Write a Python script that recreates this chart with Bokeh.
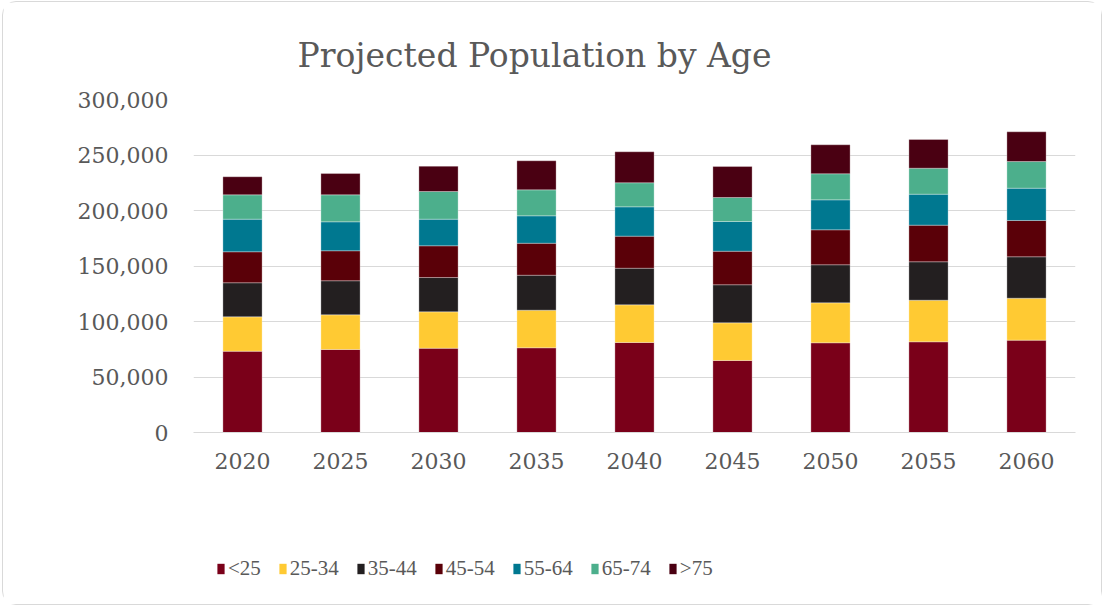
from bokeh.plotting import figure
from bokeh.layouts import column
from bokeh.models import ColumnDataSource, Legend, LegendItem, NumeralTickFormatter, FixedTicker
from bokeh.embed import file_html
from bokeh.resources import INLINE

years = ["2020", "2025", "2030", "2035", "2040", "2045", "2050", "2055", "2060"]
age_groups = ["<25", "25-34", "35-44", "45-54", "55-64", "65-74", ">75"]

under_25 = [73200, 74800, 75900, 76300, 81100, 64900, 80800, 81700, 83200]
age_25_34 = [31000, 31200, 32800, 33900, 33900, 33900, 36000, 37500, 37800]
age_35_44 = [30700, 30700, 30900, 31500, 33000, 34300, 34300, 34600, 37300]
age_45_54 = [27900, 27000, 28600, 28800, 28900, 30200, 31500, 33000, 32700]
age_55_64 = [29400, 26100, 24000, 24700, 26400, 26800, 27000, 27900, 29100]
age_65_74 = [21900, 24300, 24900, 23400, 21700, 21600, 23500, 23400, 24000]
over_75 = [16300, 19200, 22800, 26200, 27900, 27900, 26100, 25900, 26800]

colors = ["#7A0019", "#FFCA33", "#231F20", "#5A0008", "#007890", "#4CAF8C", "#4A0012"]

data = {"year": years, "<25": under_25, "25-34": age_25_34, "35-44": age_35_44,
        "45-54": age_45_54, "55-64": age_55_64, "65-74": age_65_74, ">75": over_75}
source = ColumnDataSource(data)

FONT = "DejaVu Serif"
TXT = "#595959"

# ---- main chart ----
p = figure(x_range=years, y_range=(0, 300000), width=1098, height=520,
           output_backend="svg", toolbar_location=None,
           min_border_left=190, min_border_right=26, min_border_top=97, min_border_bottom=90,
           title="Projected Population by Age")
p.outline_line_color = None

p.vbar_stack(age_groups, x="year", width=0.4, color=colors, source=source,
             line_color="white", line_alpha=0.5, line_width=0.6)

p.title.text_font = FONT
p.title.text_font_size = "33px"
p.title.text_font_style = "normal"
p.title.text_color = TXT
p.title.align = "left"
p.title.offset = 104
p.title.standoff = 50

p.yaxis.ticker = FixedTicker(ticks=[0, 50000, 100000, 150000, 200000, 250000, 300000])
p.yaxis.formatter = NumeralTickFormatter(format="0,0")
p.yaxis.axis_line_color = None
p.yaxis.major_tick_line_color = None
p.yaxis.minor_tick_line_color = None
p.yaxis.major_label_standoff = 19
p.yaxis.major_label_text_font = FONT
p.yaxis.major_label_text_font_size = "22px"
p.yaxis.major_label_text_color = TXT

p.xaxis.axis_line_color = "#d9d9d9"
p.xaxis.axis_line_width = 1
p.xaxis.major_tick_line_color = None
p.xaxis.minor_tick_line_color = None
p.xaxis.major_label_standoff = 14
p.xaxis.major_label_text_font = FONT
p.xaxis.major_label_text_font_size = "22px"
p.xaxis.major_label_text_color = TXT

p.xgrid.grid_line_color = None
p.ygrid.grid_line_color = "#d9d9d9"
p.ygrid.grid_line_width = 1

# ---- legend strip (its bars have no width and lie outside its visible range) ----
lf = figure(x_range=years, y_range=(-10, -5), width=1098, height=82,
            output_backend="svg", toolbar_location=None,
            x_axis_type=None, y_axis_type=None,
            min_border_left=0, min_border_right=0, min_border_top=0, min_border_bottom=0)
lf.outline_line_color = None
lf.xgrid.grid_line_color = None
lf.ygrid.grid_line_color = None
leg_renderers = lf.vbar_stack(age_groups, x="year", width=0, color=colors, source=source,
                              line_color=None)

items = [LegendItem(label=g, renderers=[r]) for g, r in zip(age_groups, leg_renderers)]
legend = Legend(items=items, orientation="horizontal", location=(23, 23),
                glyph_width=9, glyph_height=13, label_height=13, label_standoff=3,
                spacing=17, padding=0, margin=0,
                label_text_font="Liberation Serif", label_text_font_size="21px",
                label_text_color=TXT, border_line_color=None, background_fill_alpha=0)
lf.add_layout(legend, "center")

layout = column(p, lf, spacing=0)
layout.styles = {"border": "1px solid #d9d9d9", "border-radius": "14px",
                 "margin-left": "2px", "margin-top": "1px"}

open("out.html", "w").write(file_html(layout, INLINE))
